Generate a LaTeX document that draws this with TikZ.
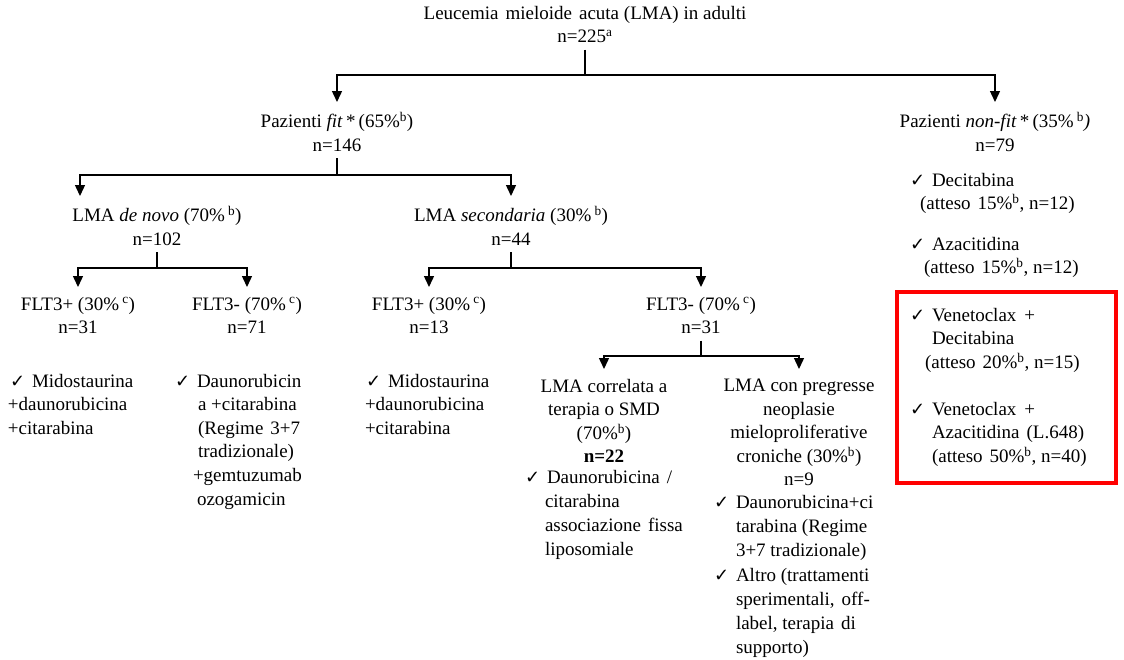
\documentclass[tikz,border=0pt]{standalone}
\usepackage{fontspec}
\setmainfont{Liberation Serif}
\newfontfamily\dejavu{DejaVu Sans}
\usetikzlibrary{arrows.meta}
\newcommand\ck{\makebox[22pt][l]{\dejavu\fontsize{18}{18}\selectfont ✓}}
\newcommand\ind[1]{\hspace*{#1pt}}
\begin{document}
\begin{tikzpicture}[x=1pt,y=-1pt,
  every node/.style={inner sep=0pt, outer sep=0pt, font=\fontsize{19}{23.6}\selectfont},
  lbl/.style={align=center, anchor=north, execute at begin node={\rule{0pt}{17pt}}, execute at end node={\rule[-5pt]{0pt}{5pt}}},
  lst/.style={align=left, anchor=north west, execute at begin node={\rule{0pt}{17pt}}},
  conn/.style={line width=1.4pt, shorten <=2pt},
  arr/.style={conn, -{Triangle[width=10pt,length=11pt]}, shorten >=10pt},
  redbox/.style={draw=red, line width=4pt, minimum width=219pt, minimum height=191pt}
]
\useasboundingbox (0,0) rectangle (1124,659);

% main nodes
\node[lbl] (root) at (585,6) {Leucemia\hspace{7pt}mieloide\hspace{7pt}acuta (LMA) in adulti\\ n=225\textsuperscript{a}};
\node[lbl] (fit) at (337,112) {Pazienti \textit{fit}\,*\,(65\%\textsuperscript{b})\\ n=146};
\node[lbl] (nonfit) at (995,112) {Pazienti \textit{non-fit}\,*\,(35\%\,\textsuperscript{b}\textit{)}\\ n=79};
\node[lbl] (denovo) at (157,206) {LMA \textit{de novo} (70\%\,\textsuperscript{b})\\ n=102};
\node[lbl] (second) at (511,206) {LMA \textit{secondaria} (30\%\,\textsuperscript{b})\\ n=44};
\node[lbl] (f1) at (78,297) {FLT3+ (30\%\,\textsuperscript{c})\\ n=31};
\node[lbl] (f2) at (247,297) {FLT3- (70\%\,\textsuperscript{c})\\ n=71};
\node[lbl] (f3) at (429,297) {FLT3+ (30\%\,\textsuperscript{c})\\ n=13};
\node[lbl] (f4) at (701,297) {FLT3- (70\%\,\textsuperscript{c})\\ n=31};
\node[lbl] (corr) at (604,379) {LMA correlata a\\ terapia o SMD\\ (70\%\textsuperscript{b})\\ \textbf{n=22}};
\node[lbl] (preg) at (799,379) {LMA con pregresse\\ neoplasie\\ mieloproliferative\\ croniche (30\%\textsuperscript{b})\\ n=9};

% treatment lists
\node[lst] (l1) at (10,374) {\ck Midostaurina\\ \ind{-2}+daunorubicina\\ \ind{-2}+citarabina};
\node[lst] (l2) at (175,374) {\ck Daunorubicin\\ \ind{23}a +citarabina\\ \ind{23}(Regime\hspace{7pt}3+7\\ \ind{23}tradizionale)\\ \ind{18}+gemtuzumab\\ \ind{22}ozogamicin};
\node[lst] (l3) at (366,374) {\ck Midostaurina\\ \ind{-1}+daunorubicina\\ \ind{-1}+citarabina};
\node[lst, font=\fontsize{19}{24.2}\selectfont] (l4) at (525,470) {\ck Daunorubicina\hspace{7pt}/\\ \ind{20}citarabina\\ \ind{20}associazione\hspace{7pt}fissa\\ \ind{20}liposomiale};
\node[lst, font=\fontsize{19}{24.3}\selectfont] (l5) at (714,495) {\ck Daunorubicina+ci\\ \ind{22}tarabina (Regime\\ \ind{22}3+7 tradizionale)\\ \ck Altro (trattamenti\\ \ind{22}sperimentali,\hspace{7pt}off-\\ \ind{22}label, terapia\hspace{7pt}di\\ \ind{22}supporto)};
\node[lst] (n1) at (910,173) {\ck Decitabina\\ \ind{10}(atteso\hspace{7pt}15\%\textsuperscript{b}, n=12)};
\node[lst] (n2) at (910,237) {\ck Azacitidina\\ \ind{14}(atteso\hspace{7pt}15\%\textsuperscript{b}, n=12)};
\node[redbox] (box) at (1006.5,387.5) {};
\node[lst] (n3) at (910,308) {\ck Venetoclax\hspace{8pt}+\\ \ind{22}Decitabina\\ \ind{15}(atteso\hspace{7pt}20\%\textsuperscript{b}, n=15)};
\node[lst] (n4) at (910,402) {\ck Venetoclax\hspace{8pt}+\\ \ind{22}Azacitidina\hspace{7pt}(L.648)\\ \ind{22}(atteso\hspace{7pt}50\%\textsuperscript{b}, n=40)};

% junctions
\coordinate (j0) at (585,75);
\coordinate (j1) at (337,175);
\coordinate (j2) at (157,268);
\coordinate (j3) at (511,268);
\coordinate (j4) at (701,356);

% connectors
\draw[arr] (root.south) -- (j0) -| (fit.north);
\draw[arr] (root.south) -- (j0) -| (nonfit.north);
\draw[arr] (fit.south) -- (j1) -| ([xshift=-77pt]denovo.north);
\draw[arr] (fit.south) -- (j1) -| (second.north);
\draw[arr] (denovo.south) -- (j2) -| (f1.north);
\draw[arr] (denovo.south) -- (j2) -| (f2.north);
\draw[arr] (second.south) -- (j3) -| (f3.north);
\draw[arr] (second.south) -- (j3) -| (f4.north);
\draw[arr] (f4.south) -- (j4) -| (corr.north);
\draw[arr] (f4.south) -- (j4) -| (preg.north);
\end{tikzpicture}
\end{document}
